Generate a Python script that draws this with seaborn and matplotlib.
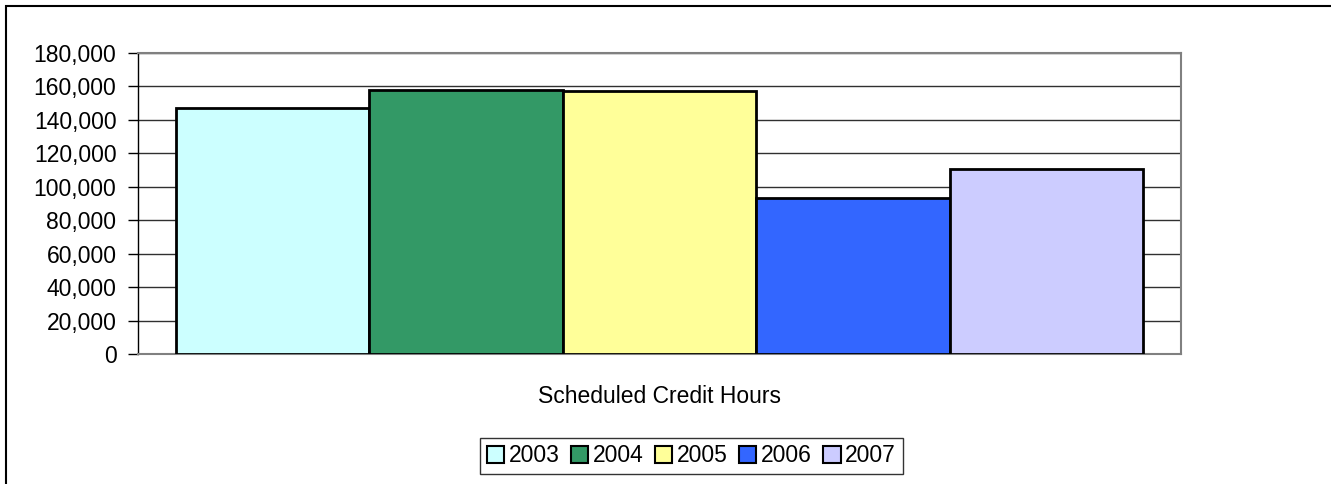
import matplotlib
matplotlib.use("Agg")
import matplotlib.pyplot as plt
import seaborn as sns
import pandas as pd
from matplotlib.patches import Rectangle
from matplotlib.ticker import FuncFormatter

categories = ["Scheduled Credit Hours"]
years = ["2003", "2004", "2005", "2006", "2007"]
values = [147100, 157900, 157400, 93300, 110800]
colors = ["#CCFFFF", "#339966", "#FFFF99", "#3366FF", "#CCCCFF"]
yticks = [0, 20000, 40000, 60000, 80000, 100000, 120000, 140000, 160000, 180000]

df = pd.DataFrame({"cat": categories * len(years), "year": years, "value": values})

sns.set_style("white")
plt.rcParams["font.family"] = ["Liberation Sans", "DejaVu Sans"]
plt.rcParams["text.color"] = "black"
plt.rcParams["xtick.color"] = "black"
plt.rcParams["ytick.color"] = "black"
plt.rcParams["xtick.labelcolor"] = "black"
plt.rcParams["ytick.labelcolor"] = "black"

W, H = 1331, 484
FS = 16.5
fig = plt.figure(figsize=(W / 100, H / 100), dpi=100)
ax = fig.add_axes([138 / W, (H - 354) / H, 1043 / W, 301 / H])

sns.barplot(data=df, x="cat", y="value", hue="year", palette=colors,
            hue_order=years, width=0.8, ax=ax, edgecolor="black",
            linewidth=2, saturation=1, legend=True, zorder=3)

ax.set_ylim(0, 180000)
ax.set_xlim(-0.4314, 0.4314)
ax.set_yticks(yticks)
ax.yaxis.set_major_formatter(FuncFormatter(lambda v, p: f"{int(v):,}"))
ax.tick_params(axis="y", labelsize=FS, length=7, width=1, color="black",
               labelcolor="black", direction="out", pad=8.5, left=True)
ax.tick_params(axis="x", labelsize=FS, length=0, pad=22, labelcolor="black")
ax.set_xlabel("")
ax.set_ylabel("")
ax.grid(axis="y", color="#303030", linewidth=1, zorder=0)
ax.set_axisbelow(True)

for s in ["top", "right", "bottom"]:
    ax.spines[s].set_color("#808080")
    ax.spines[s].set_linewidth(1.5)
ax.spines["left"].set_color("black")
ax.spines["left"].set_linewidth(1)

leg = ax.legend(loc="center", bbox_to_anchor=((691.5 - 138) / 1043, (354 - 456) / 301),
                ncol=5, fontsize=FS, frameon=True, fancybox=False,
                handlelength=0.75, handleheight=0.75, handletextpad=0.2,
                columnspacing=0.5, borderpad=0.3, borderaxespad=0)
leg.get_frame().set_edgecolor("black")
leg.get_frame().set_linewidth(1)
for t in leg.get_texts():
    t.set_color("black")
for h in leg.legend_handles:
    h.set_edgecolor("black")
    h.set_linewidth(1.5)

fig.patches.append(Rectangle((6 / W, -0.1), 2, (H - 6) / H + 0.1,
                             transform=fig.transFigure, fill=False,
                             edgecolor="black", linewidth=1.5))

fig.savefig("out.png", dpi=100)
